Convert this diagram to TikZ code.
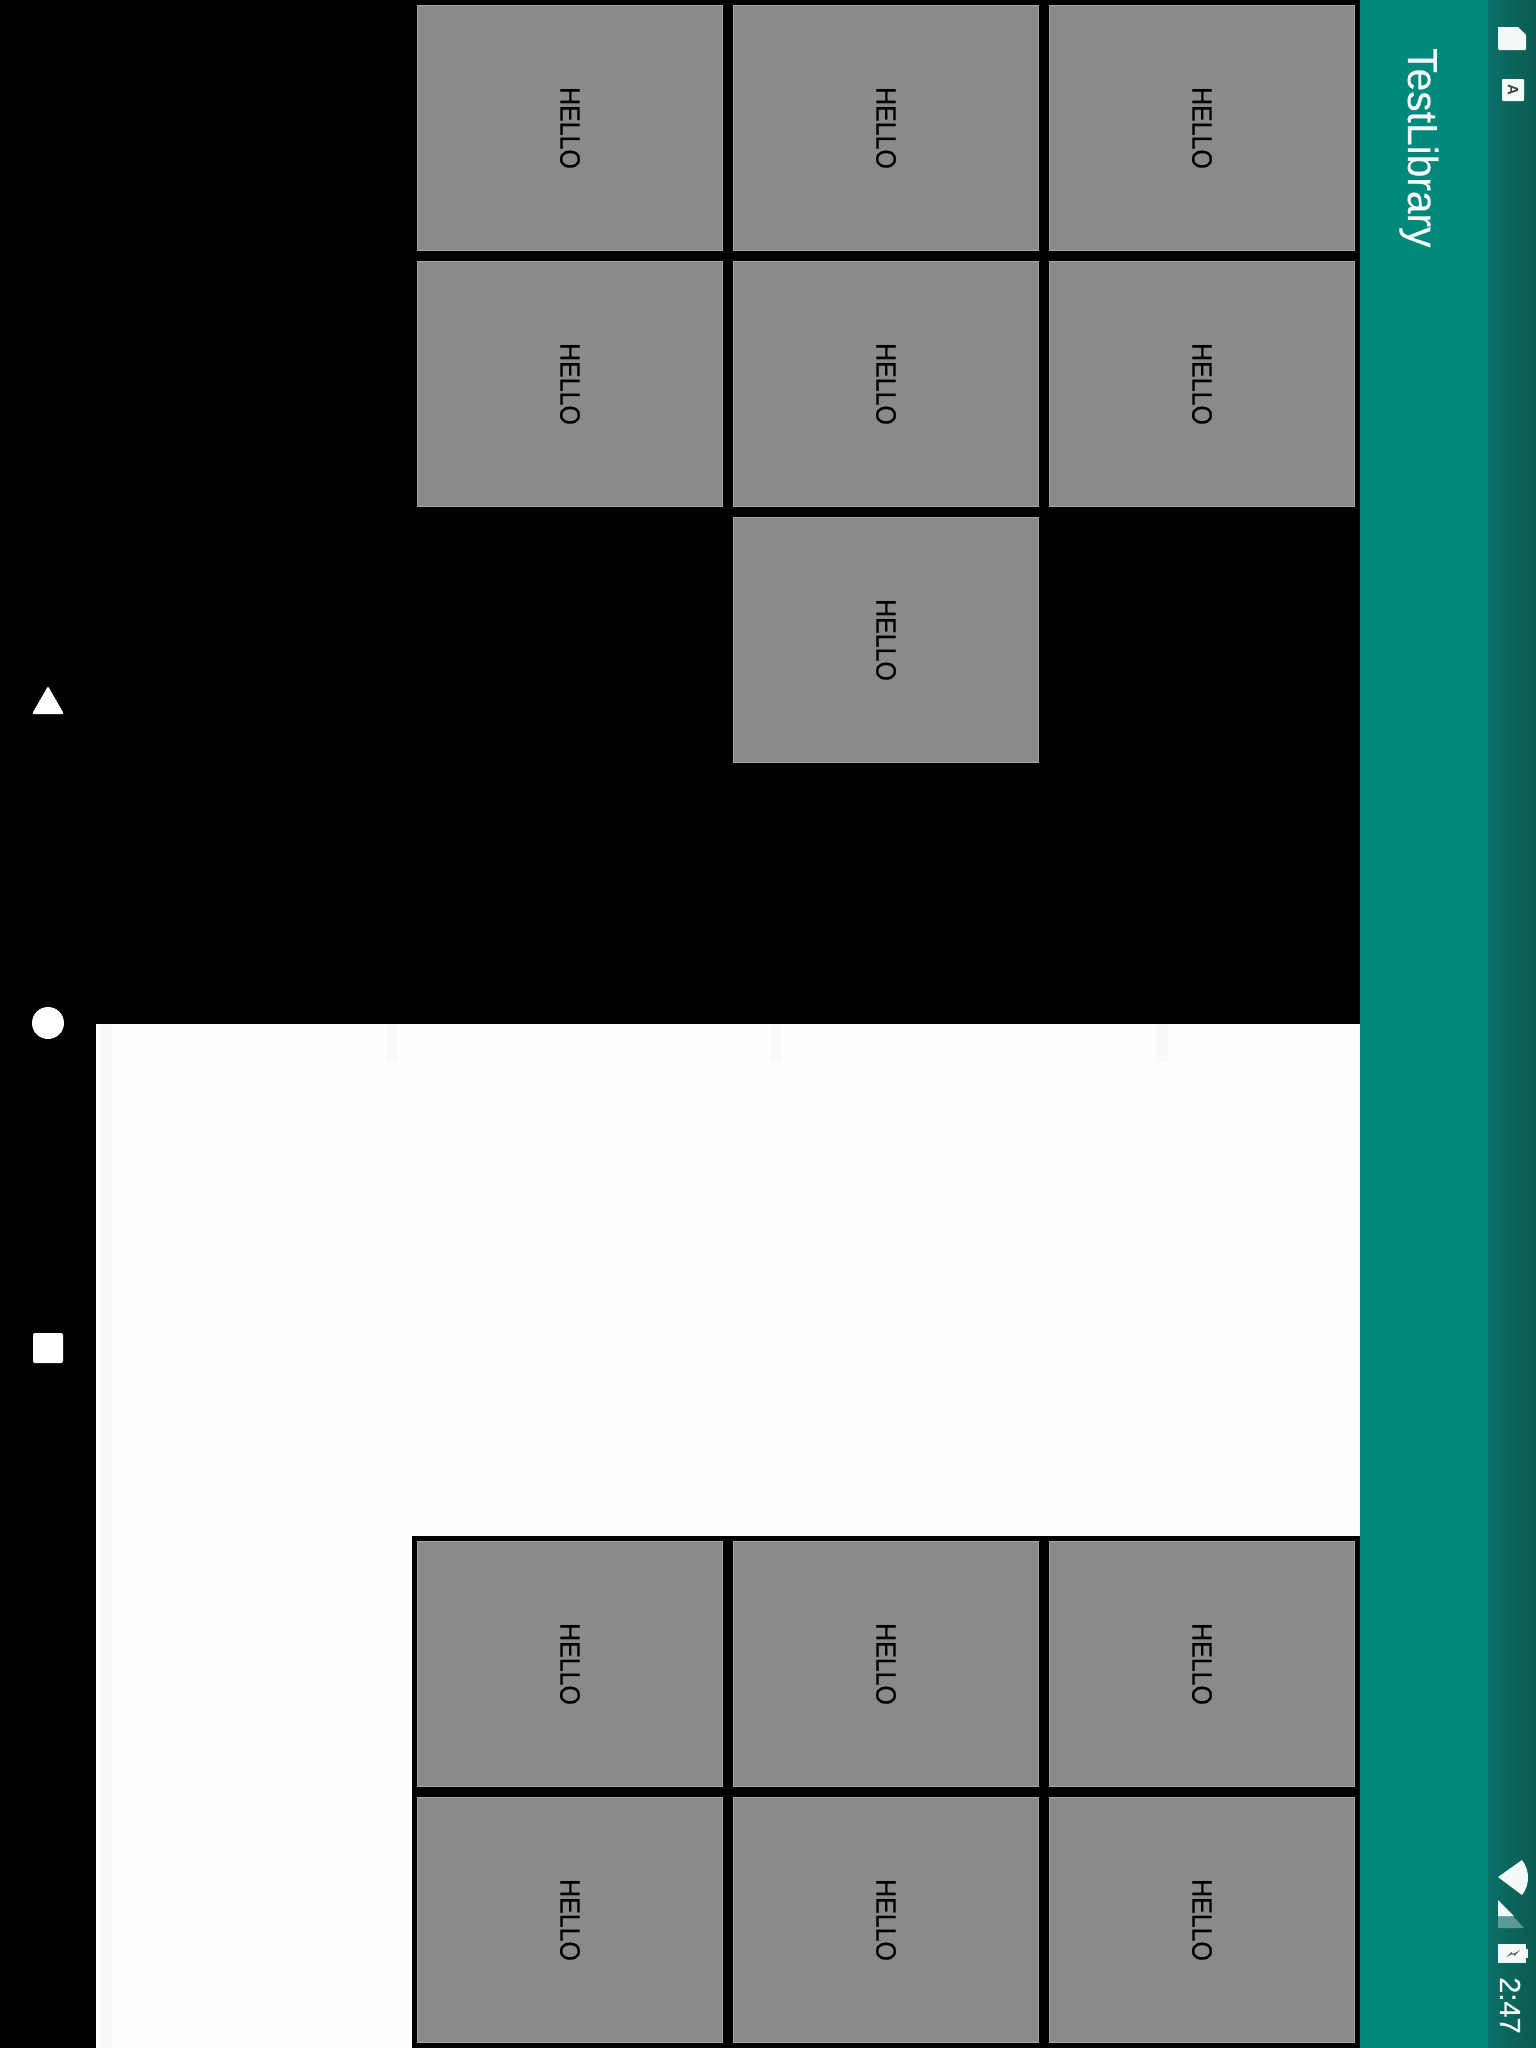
\documentclass[tikz,border=0pt]{standalone}
\usepackage{fontspec}
\setmainfont{Liberation Sans}
\newfontfamily\medfont[FakeBold=0.5]{Liberation Sans}
\newfontfamily\titlefont[FakeBold=0.3]{Liberation Sans}
\definecolor{cellgrey}{HTML}{8A8A88}
\definecolor{celledge}{HTML}{A3A3A0}
\definecolor{appteal}{HTML}{00897B}
\definecolor{stlight}{HTML}{0A6F68}
\definecolor{stdark}{HTML}{0B5A4E}
\definecolor{whitish}{HTML}{FEFEFE}
\definecolor{stripe}{HTML}{F9F9FB}
\definecolor{iconwhite}{HTML}{F4FAFA}
\tikzset{
  x=1pt,y=-1pt,
  cell/.style={fill=cellgrey,draw=celledge,line width=1pt,minimum width=305pt,minimum height=245pt,inner sep=0pt,anchor=north west,text=black},
  panel/.style={fill=#1,draw=none},
  icon/.style={fill=iconwhite,draw=none},
  navicon/.style={fill=white,draw=none,rounded corners=2pt},
  rottext/.style={rotate=-90,anchor=base west,inner sep=0pt,text=iconwhite}
}
\newcommand{\hellotext}{\rotatebox{-90}{\scalebox{0.89}[1]{\fontsize{28}{28}\medfont HELLO}}}
\begin{document}
\begin{tikzpicture}
\useasboundingbox (0,0) rectangle (1536,2048);
% backgrounds
\fill[panel=black] (0,0) rectangle (1536,2048);
\fill[panel=whitish] (96,1024) rectangle (1360,2048);
\fill[panel=stripe] (100,1024) rectangle (112,2048);
\foreach \sx in {386,770,1156} \fill[panel=stripe] (\sx,1024) rectangle ++(12,38);
\fill[panel=black] (412,1536) rectangle (1360,2048);
\fill[panel=appteal] (1360,0) rectangle (1488,2048);
\shade[left color=stlight,right color=stdark,draw=none] (1488,0) rectangle (1536,2048);
% upper cells
\foreach \n/\cx/\cy in {a/417/5,b/733/5,c/1049/5,d/417/261,e/733/261,f/1049/261,g/733/517}
  \node[cell] (cell\n) at (\cx,\cy) {\hellotext};
% lower cells
\foreach \n/\cx/\cy in {h/417/1541,i/733/1541,j/1049/1541,k/417/1797,l/733/1797,m/1049/1797}
  \node[cell] (cell\n) at (\cx,\cy) {\hellotext};
% title
\node[rottext] (title) at (1408,48) {\scalebox{0.97}[1]{\fontsize{42}{42}\titlefont TestLibrary}};
% navigation
\fill[navicon] (48,686) -- (64,714) -- (32,714) -- cycle;
\fill[white] (48,1023) circle (16);
\fill[navicon] (33,1333) rectangle (63,1363);
% status icons, top
\fill[icon,rounded corners=1pt] (1498,27) -- (1526,35) -- (1526,50) -- (1498,50) -- cycle;
\fill[icon] (1498,27) -- (1518,27) -- (1526,35) -- (1498,35) -- cycle;
\fill[icon,rounded corners=1pt] (1502,79) rectangle (1524,101);
\node[rotate=-90,inner sep=0pt,text=black!75] (imeletter) at (1513,90) {\fontsize{15}{15}\selectfont\bfseries A};
% status icons, bottom
\fill[icon] (1498,1877) -- (1522,1860) .. controls (1530,1870) and (1530,1885) .. (1522,1895) -- cycle;
\fill[iconwhite,opacity=0.35] (1498,1900) -- (1498,1928) -- (1524,1928) -- cycle;
\fill[icon] (1498,1900) -- (1498,1916) -- (1514,1916) -- cycle;
\fill[icon] (1498,1944) rectangle (1526,1963);
\fill[icon] (1526,1949) rectangle (1528,1958);
\fill[black!70] (1506,1957) -- (1512,1952) -- (1512,1955) -- (1520,1950) -- (1514,1956) -- (1514,1953) -- cycle;
\node[rottext] (clock) at (1500,1977) {\fontsize{29}{29}\titlefont 2:47};
\end{tikzpicture}
\end{document}
